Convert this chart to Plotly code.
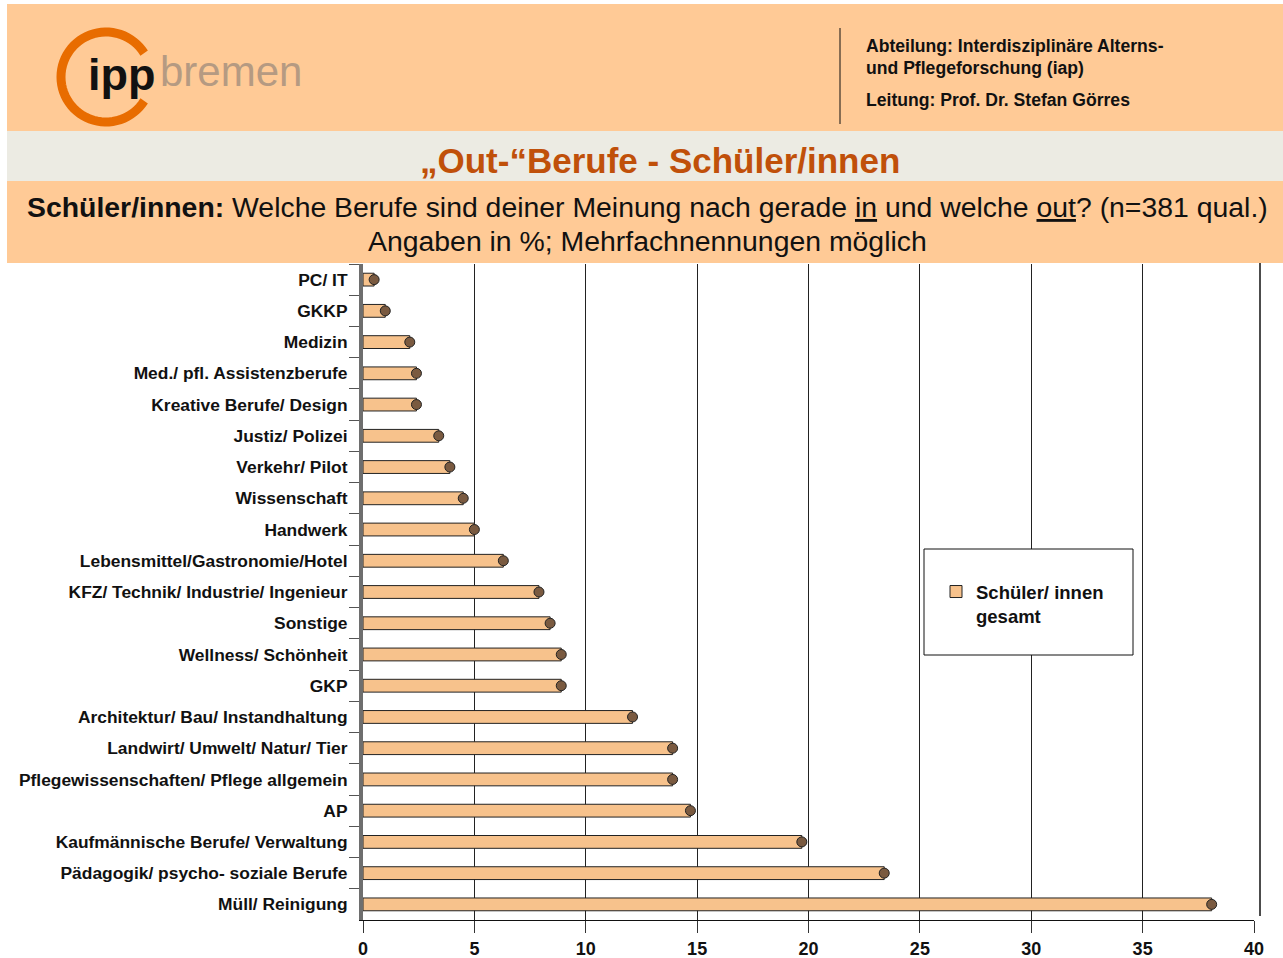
import math
import plotly.graph_objects as go

# ---------------- data ----------------
categories = [
    "PC/ IT", "GKKP", "Medizin", "Med./ pfl. Assistenzberufe", "Kreative Berufe/ Design",
    "Justiz/ Polizei", "Verkehr/ Pilot", "Wissenschaft", "Handwerk",
    "Lebensmittel/Gastronomie/Hotel", "KFZ/ Technik/ Industrie/ Ingenieur", "Sonstige",
    "Wellness/ Schönheit", "GKP", "Architektur/ Bau/ Instandhaltung",
    "Landwirt/ Umwelt/ Natur/ Tier", "Pflegewissenschaften/ Pflege allgemein", "AP",
    "Kaufmännische Berufe/ Verwaltung", "Pädagogik/ psycho- soziale Berufe", "Müll/ Reinigung",
]
values = [0.5, 1.0, 2.1, 2.4, 2.4, 3.4, 3.9, 4.5, 5.0, 6.3, 7.9, 8.4, 8.9, 8.9,
          12.1, 13.9, 13.9, 14.7, 19.7, 23.4, 38.1]
series_name = "Schüler/ innen<br>gesamt"
x_ticks = [0, 5, 10, 15, 20, 25, 30, 35, 40]

W, H = 1283, 958
FONT = "Arial, Liberation Sans, sans-serif"
ORANGE_BG = "#FFCA96"
GRAY_BG = "#ECEBE3"


def px(x):
    return x / W


def py(y):
    return 1 - y / H


fig = go.Figure()
fig.add_trace(go.Bar(
    y=categories, x=values, orientation="h", name=series_name,
    marker=dict(color="#F7C28C", line=dict(color="#222222", width=1)),
    width=0.41, hoverinfo="x+y",
))
fig.add_trace(go.Scatter(
    y=categories, x=values, mode="markers", showlegend=False, hoverinfo="skip",
    marker=dict(symbol="circle", size=10, color="#7A5A40", line=dict(color="#222222", width=1)),
))

shapes = []
# header bands
shapes.append(dict(type="rect", xref="paper", yref="paper", x0=px(7), x1=1, y0=py(131), y1=py(4),
                   fillcolor=ORANGE_BG, line=dict(width=0), layer="below"))
shapes.append(dict(type="rect", xref="paper", yref="paper", x0=px(7), x1=1, y0=py(181), y1=py(131),
                   fillcolor=GRAY_BG, line=dict(width=0), layer="below"))
shapes.append(dict(type="rect", xref="paper", yref="paper", x0=px(7), x1=1, y0=py(263), y1=py(181),
                   fillcolor=ORANGE_BG, line=dict(width=0), layer="below"))
# divider line in header
shapes.append(dict(type="line", xref="paper", yref="paper", x0=px(840), x1=px(840), y0=py(28), y1=py(124),
                   line=dict(color="#111111", width=1)))
# logo ring (open on the right)
cx, cy, r = 106, 77, 45
pts = []
for i in range(0, 61):
    a = math.radians(32 + i * (296 / 60))
    pts.append((px(cx + r * math.cos(a)), py(cy - r * math.sin(a))))
path = "M " + " L ".join(f"{x:.5f},{y:.5f}" for x, y in pts)
shapes.append(dict(type="path", xref="paper", yref="paper", path=path,
                   line=dict(color="#E86C00", width=9)))
# right wall edge of the plot
shapes.append(dict(type="line", xref="paper", yref="paper", x0=px(1260), x1=px(1260), y0=py(916),
                   y1=py(263), line=dict(color="#111111", width=1.5)))
# legend frame
shapes.append(dict(type="rect", xref="paper", yref="paper", x0=px(924), x1=px(1133), y0=py(655), y1=py(549),
                   fillcolor="white", line=dict(color="#111111", width=1), layer="above"))


def ann(text, x, y, size, color="#111111", xanchor="left"):
    return dict(text=text, x=px(x), y=py(y), xref="paper", yref="paper", xanchor=xanchor,
                yanchor="middle", showarrow=False, font=dict(family=FONT, size=size, color=color))


annotations = [
    ann("<b>ipp</b>", 86, 74, 45, "#111111"),
    ann("bremen", 158, 72, 42, "#B59A82"),
    ann("<b>Abteilung: Interdisziplinäre Alterns-</b>", 864, 46, 17.6),
    ann("<b>und Pflegeforschung (iap)</b>", 864, 68, 17.6),
    ann("<b>Leitung: Prof. Dr. Stefan Görres</b>", 864, 100, 17.6),
    ann("<b>„Out-“Berufe - Schüler/innen</b>", 660, 160, 35, "#C0500A", "center"),
    ann("<b>Schüler/innen:</b> Welche Berufe sind deiner Meinung nach gerade "
        "<span style='text-decoration:underline'>in</span> und welche "
        "<span style='text-decoration:underline'>out</span>? (n=381 qual.)", 647, 207, 28.4,
        xanchor="center"),
    ann("Angaben in %; Mehrfachnennungen möglich", 647, 241, 28.4, xanchor="center"),
]

fig.update_layout(
    width=W, height=H, autosize=False,
    margin=dict(l=0, r=0, t=0, b=0, pad=0, autoexpand=False),
    paper_bgcolor="white", plot_bgcolor="white",
    shapes=shapes, annotations=annotations,
    showlegend=True,
    legend=dict(x=px(936), y=py(573), xanchor="left", yanchor="top", bgcolor="rgba(0,0,0,0)",
                borderwidth=0, valign="top",
                font=dict(family=FONT, size=18.5, color="#111111", weight="bold")),
    xaxis=dict(domain=[px(363), px(1254)], range=[0, 40], tickvals=x_ticks, automargin=False,
               ticktext=[str(v) for v in x_ticks], showgrid=True, gridcolor="#222222", gridwidth=1,
               showline=True, linecolor="#111111", linewidth=1, ticks="outside", ticklen=12,
               tickcolor="#333333", zeroline=False,
               tickfont=dict(family=FONT, size=18, color="#111111", weight="bold")),
    yaxis=dict(domain=[py(920), py(264)], range=[len(categories) - 0.5, -0.5], showgrid=False,
               automargin=False, ticklabelstandoff=8,
               showline=True, linecolor="#6E6E6E", linewidth=4, ticks="outside", ticklen=10,
               tickcolor="#555555", tickson="boundaries",
               tickfont=dict(family=FONT, size=17.4, color="#111111", weight="bold")),
)

fig.write_html(
    "out.html",
    config={"displayModeBar": False, "responsive": False},
    post_script="document.body.style.margin='0';document.documentElement.style.overflow='hidden';",
)
